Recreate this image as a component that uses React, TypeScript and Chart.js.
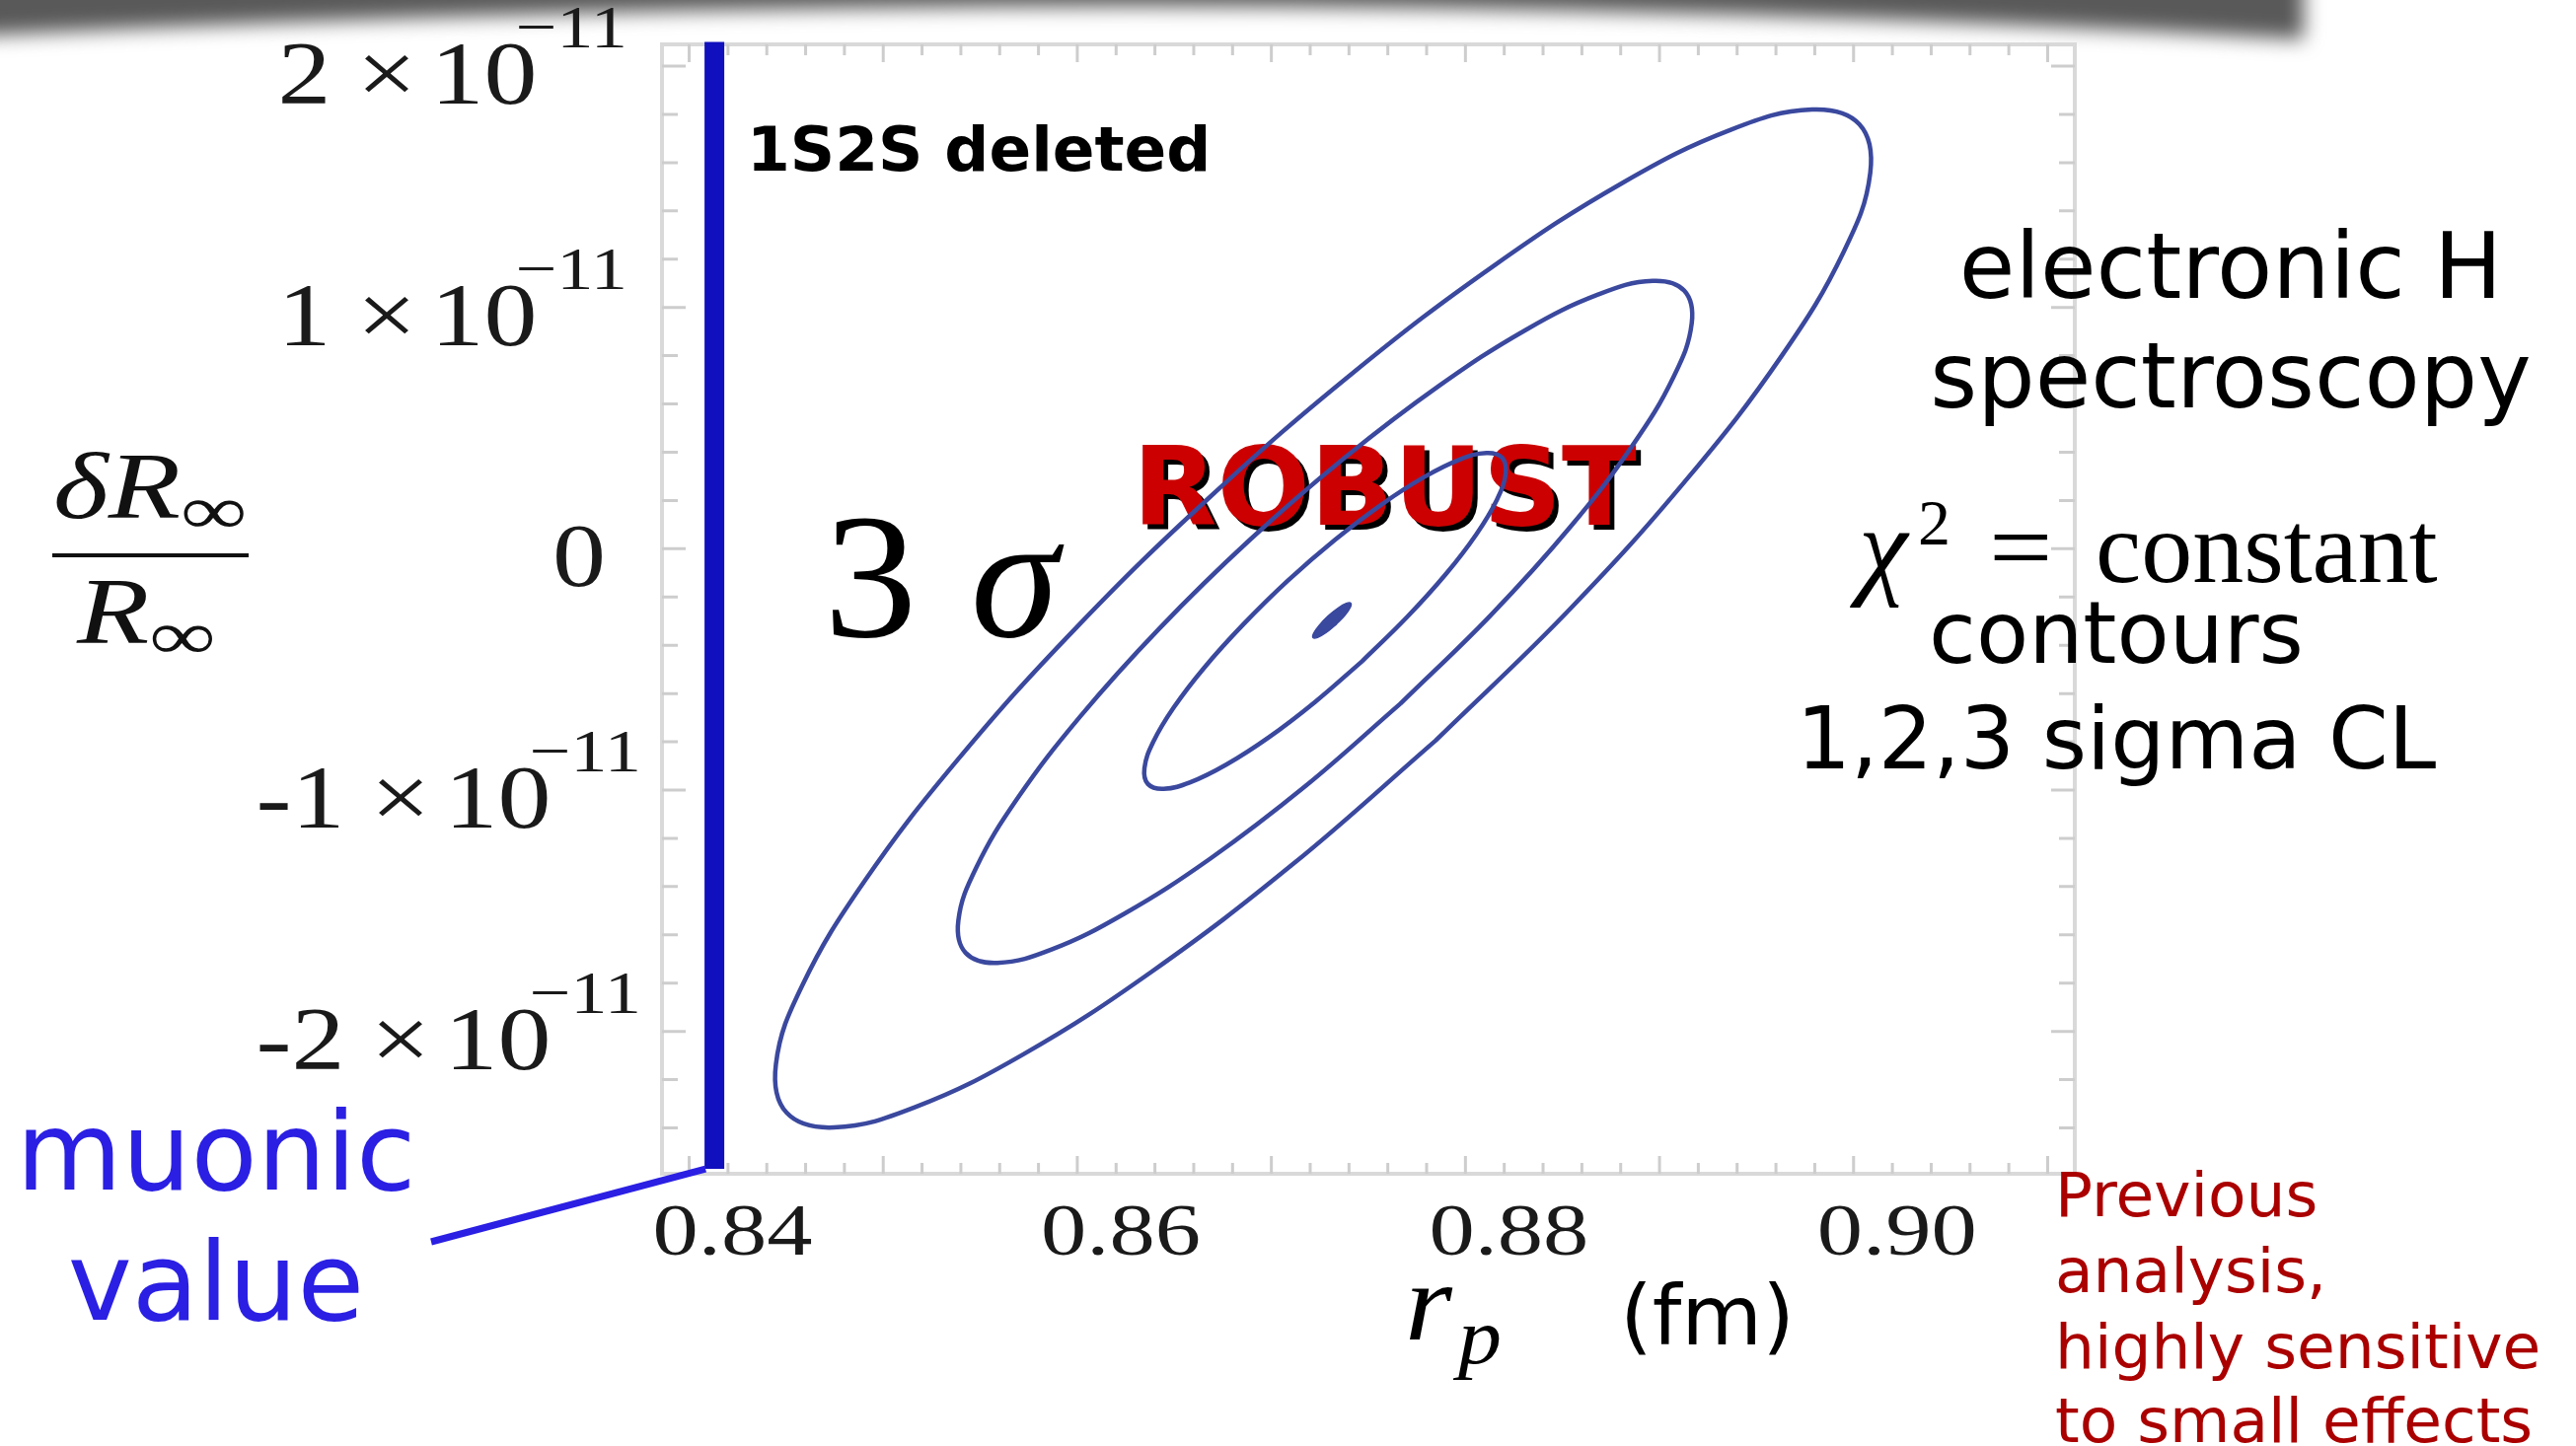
import React, { useEffect, useRef } from 'react';
import { Chart, registerables } from 'chart.js';

Chart.register(...registerables);

const W = 2611;
const H = 1466;

// Axis ranges: proton radius r_p in fm, δR∞/R∞ in units of 1e-11
const rpRange: [number, number] = [0.8386, 0.9114];
const dRRange: [number, number] = [-2.59, 2.09];

const rpTickValues = [0.84, 0.86, 0.88, 0.9];
const rpTickLabels = ['0.84', '0.86', '0.88', '0.90'];
const rpMinorStep = 0.002;

const dRTickValues = [2, 1, 0, -1, -2];
const dRTickMantissas = ['2', '1', '0', '-1', '-2'];
const dRTickExponent = '\u221211';
const dRMinorStep = 0.2;

// muonic hydrogen value of r_p
const muonicRp = 0.8413;
const muonicSpan = [2.1, -2.57];

// χ² = constant contours, [r_p, δR∞/R∞]
const contour3Sigma: [number, number][] = [
  [0.87846, -0.795], [0.87111, -1.307], [0.86386, -1.751], [0.85722, -2.095],
  [0.85162, -2.315], [0.84746, -2.398], [0.84502, -2.337], [0.84447, -2.136],
  [0.84583, -1.809], [0.84902, -1.379], [0.85383, -0.875], [0.85991, -0.33],
  [0.86687, 0.217], [0.87422, 0.73], [0.88147, 1.173], [0.88811, 1.517],
  [0.8937, 1.737], [0.89786, 1.82], [0.9003, 1.759], [0.90086, 1.558],
  [0.8995, 1.232], [0.89631, 0.801], [0.8915, 0.297], [0.88541, -0.248],
  [0.87846, -0.795],
];

const contour2Sigma: [number, number][] = [
  [0.87665, -0.642], [0.87172, -0.986], [0.86687, -1.283], [0.86241, -1.513],
  [0.85867, -1.661], [0.85588, -1.716], [0.85425, -1.675], [0.85387, -1.541],
  [0.85479, -1.322], [0.85692, -1.034], [0.86014, -0.696], [0.86422, -0.331],
  [0.86888, 0.036], [0.87381, 0.379], [0.87866, 0.676], [0.88311, 0.907],
  [0.88686, 1.054], [0.88965, 1.11], [0.89128, 1.069], [0.89166, 0.934],
  [0.89074, 0.715], [0.8886, 0.427], [0.88539, 0.089], [0.88131, -0.275],
  [0.87665, -0.642],
];

const contour1Sigma: [number, number][] = [
  [0.87468, -0.466], [0.87225, -0.635], [0.86986, -0.782], [0.86767, -0.895],
  [0.86582, -0.968], [0.86445, -0.995], [0.86364, -0.975], [0.86346, -0.909],
  [0.86391, -0.801], [0.86496, -0.659], [0.86655, -0.492], [0.86856, -0.313],
  [0.87085, -0.132], [0.87328, 0.037], [0.87567, 0.183], [0.87787, 0.297],
  [0.87971, 0.37], [0.88108, 0.397], [0.88189, 0.377], [0.88207, 0.31],
  [0.88162, 0.203], [0.88057, 0.061], [0.87898, -0.106], [0.87697, -0.285],
  [0.87468, -0.466],
];

// tiny contour around the χ² minimum
const bestFitContour: [number, number][] = [
  [0.87332, -0.315], [0.87281, -0.348], [0.87238, -0.368], [0.87215, -0.369],
  [0.87218, -0.35], [0.87246, -0.318], [0.87292, -0.279], [0.87343, -0.246],
  [0.87386, -0.226], [0.87409, -0.225], [0.87406, -0.244], [0.87378, -0.277],
  [0.87332, -0.315],
];

const CONTOUR_COLOR = '#3a489e';
const MUONIC_LINE = '#1010be';
const MUONIC_TEXT = '#2a1fe3';
const sans = "'DejaVu Sans', 'Noto Sans', sans-serif";
const serif = "'Liberation Serif', 'DejaVu Serif', serif";

type Align = 'left' | 'center' | 'right';

function drawText(
  ctx: CanvasRenderingContext2D,
  s: string,
  x: number,
  y: number,
  font: string,
  color: string,
  align: Align = 'left',
  sx = 1,
): number {
  ctx.save();
  ctx.font = font;
  ctx.fillStyle = color;
  ctx.textBaseline = 'alphabetic';
  ctx.textAlign = 'left';
  const w = ctx.measureText(s).width * sx;
  const x0 = align === 'center' ? x - w / 2 : align === 'right' ? x - w : x;
  ctx.translate(x0, y);
  ctx.scale(sx, 1);
  ctx.fillText(s, 0, 0);
  ctx.restore();
  return w;
}

function measure(ctx: CanvasRenderingContext2D, s: string, font: string, sx = 1): number {
  ctx.save();
  ctx.font = font;
  const w = ctx.measureText(s).width * sx;
  ctx.restore();
  return w;
}

// soft shadow along the top edge of the slide
const shadowPlugin = {
  id: 'topShadow',
  beforeDraw(chart: Chart) {
    const ctx = chart.ctx;
    ctx.save();
    ctx.filter = 'blur(10px)';
    ctx.fillStyle = '#595959';
    ctx.beginPath();
    ctx.moveTo(-60, -80);
    ctx.lineTo(2335, -80);
    ctx.lineTo(2335, 40);
    ctx.quadraticCurveTo(1200, -26, -60, 38);
    ctx.closePath();
    ctx.fill();
    ctx.restore();
  },
};

// light frame with inward ticks on all four sides
const framePlugin = {
  id: 'frameTicks',
  beforeDatasetsDraw(chart: Chart) {
    const ctx = chart.ctx;
    const { left, right, top, bottom } = chart.chartArea;
    const xs = chart.scales.x;
    const ys = chart.scales.y;
    ctx.save();
    ctx.strokeStyle = '#d9d9d9';
    ctx.lineWidth = 4;
    ctx.strokeRect(left, top, right - left, bottom - top);

    ctx.strokeStyle = '#cdcdcd';
    ctx.lineWidth = 3;
    ctx.beginPath();
    for (let i = 0; ; i++) {
      const v = rpTickValues[0] + i * rpMinorStep;
      if (v > rpRange[1] + 1e-9) break;
      const px = xs.getPixelForValue(v);
      const len = i % 5 === 0 ? 18 : 11;
      ctx.moveTo(px, bottom);
      ctx.lineTo(px, bottom - len);
      ctx.moveTo(px, top);
      ctx.lineTo(px, top + len);
    }
    const firstY = Math.ceil((dRRange[0] + 1e-9) / dRMinorStep);
    const lastY = Math.floor((dRRange[1] - 1e-9) / dRMinorStep);
    for (let k = firstY; k <= lastY; k++) {
      const py = ys.getPixelForValue(k * dRMinorStep);
      const len = k % 5 === 0 ? 24 : 16;
      ctx.moveTo(left, py);
      ctx.lineTo(left + len, py);
      ctx.moveTo(right, py);
      ctx.lineTo(right - len, py);
    }
    ctx.stroke();
    ctx.restore();

    // "ROBUST" sits underneath the contour lines
    const rx = 1148;
    const ry = 532;
    const f = `bold 110px ${sans}`;
    drawText(ctx, 'ROBUST', rx + 5, ry + 5, f, '#000000', 'left', 1.01);
    drawText(ctx, 'ROBUST', rx, ry, f, '#cc0000', 'left', 1.01);
  },
};

const labelPlugin = {
  id: 'labels',
  afterDatasetsDraw(chart: Chart) {
    const ctx = chart.ctx;
    const xs = chart.scales.x;
    const ys = chart.scales.y;
    const tickColor = '#1a1a1a';

    // x tick labels
    const xFont = `74px ${serif}`;
    rpTickValues.forEach((v, i) => {
      const px = xs.getPixelForValue(v) + 44;
      drawText(ctx, rpTickLabels[i], px, 1272, xFont, tickColor, 'center', 1.25);
    });

    // y tick labels: mantissa ×10^-11
    const yFont = `90px ${serif}`;
    const expFont = `62px ${serif}`;
    const sx = 1.2;
    dRTickValues.forEach((v, i) => {
      const m = dRTickMantissas[i];
      const base = ys.getPixelForValue(v) + 38;
      if (v === 0) {
        drawText(ctx, m, 614, base, yFont, tickColor, 'right', sx);
        return;
      }
      const wm = measure(ctx, m, yFont, sx);
      const wx = measure(ctx, '\u00d7', yFont, sx);
      const w10 = measure(ctx, '10', yFont, sx);
      const we = measure(ctx, dRTickExponent, expFont, sx);
      const total = wm + 26 + wx + 14 + w10 - 22 + we;
      const xr = v > 0 ? 636 : 650;
      let x = xr - total;
      x += drawText(ctx, m, x, base, yFont, tickColor, 'left', sx) + 26;
      x += drawText(ctx, '\u00d7', x, base, yFont, tickColor, 'left', sx) + 14;
      x += drawText(ctx, '10', x, base, yFont, tickColor, 'left', sx) - 22;
      drawText(ctx, dRTickExponent, x, base - 57, expFont, tickColor, 'left', sx);
    });

    // y axis title: δR∞ / R∞
    const it = `italic 96px ${serif}`;
    const inf = `70px ${serif}`;
    let nx = 54;
    nx += drawText(ctx, '\u03b4R', nx, 525, it, '#111', 'left', 1.25);
    drawText(ctx, '\u221e', nx, 541, inf, '#111', 'left', 1.35);
    ctx.save();
    ctx.fillStyle = '#111';
    ctx.fillRect(53, 561, 199, 4);
    ctx.restore();
    let dx = 78;
    dx += drawText(ctx, 'R', dx, 652, it, '#111', 'left', 1.25);
    drawText(ctx, '\u221e', dx, 668, inf, '#111', 'left', 1.35);

    // x axis title: r_p (fm)
    drawText(ctx, 'r', 1424, 1358, `italic 112px ${serif}`, '#000', 'left', 1.1);
    drawText(ctx, 'p', 1478, 1382, `italic 80px ${serif}`, '#000', 'left', 1.1);
    drawText(ctx, '(fm)', 1642, 1363, `84px ${sans}`, '#000');

    // annotations inside the frame
    drawText(ctx, '1S2S deleted', 757, 173, `bold 63px ${sans}`, '#000');
    drawText(ctx, '3', 835, 645, `180px ${serif}`, '#000', 'left', 1.05);
    drawText(ctx, '\u03c3', 984, 645, `italic 180px ${serif}`, '#000');

    // right-hand notes
    drawText(ctx, 'electronic H', 2261, 302, `92px ${sans}`, '#000', 'center');
    drawText(ctx, 'spectroscopy', 2261, 413, `92px ${sans}`, '#000', 'center');
    drawText(ctx, '\u03c7', 1884, 592, `italic 112px ${serif}`, '#000');
    drawText(ctx, '2', 1944, 552, `66px ${serif}`, '#000');
    drawText(ctx, '=', 2016, 590, `104px ${serif}`, '#000', 'left', 1.1);
    drawText(ctx, 'constant', 2124, 590, `104px ${serif}`, '#000');
    drawText(ctx, 'contours', 2145, 672, `87px ${sans}`, '#000', 'center');
    drawText(ctx, '1,2,3 sigma CL', 2145, 779, `87px ${sans}`, '#000', 'center');

    const red = '#aa0000';
    const rf = `63px ${sans}`;
    drawText(ctx, 'Previous', 2083, 1233, rf, red);
    drawText(ctx, 'analysis,', 2083, 1310, rf, red);
    drawText(ctx, 'highly sensitive', 2083, 1387, rf, red);
    drawText(ctx, 'to small effects', 2083, 1462, rf, red);

    // muonic value label and its leader line
    const mf = `110px ${sans}`;
    drawText(ctx, 'muonic', 219, 1206, mf, MUONIC_TEXT, 'center');
    drawText(ctx, 'value', 219, 1338, mf, MUONIC_TEXT, 'center');
    const lx = xs.getPixelForValue(muonicRp) - 9;
    const ly = ys.getPixelForValue(muonicSpan[1]);
    ctx.save();
    ctx.strokeStyle = MUONIC_TEXT;
    ctx.lineWidth = 7;
    ctx.beginPath();
    ctx.moveTo(lx, ly);
    ctx.lineTo(437, 1259);
    ctx.stroke();
    ctx.restore();
  },
};

const toXY = (pts: [number, number][]) => pts.map(([x, y]) => ({ x, y }));

export default function App() {
  const canvasRef = useRef<HTMLCanvasElement | null>(null);

  useEffect(() => {
    const canvas = canvasRef.current;
    if (!canvas) return;
    const contourStyle = {
      showLine: true,
      borderColor: CONTOUR_COLOR,
      borderWidth: 4.5,
      pointRadius: 0,
      tension: 0.4,
      fill: false,
    };
    const chart = new Chart(canvas, {
      type: 'scatter',
      data: {
        datasets: [
          { label: '3 sigma', data: toXY(contour3Sigma), ...contourStyle },
          { label: '2 sigma', data: toXY(contour2Sigma), ...contourStyle },
          { label: '1 sigma', data: toXY(contour1Sigma), ...contourStyle },
          {
            label: 'minimum',
            data: toXY(bestFitContour),
            ...contourStyle,
            borderWidth: 1.5,
            fill: 'shape',
            backgroundColor: CONTOUR_COLOR,
          },
          {
            label: 'muonic',
            data: [
              { x: muonicRp, y: muonicSpan[0] },
              { x: muonicRp, y: muonicSpan[1] },
            ],
            showLine: true,
            borderColor: MUONIC_LINE,
            borderWidth: 20,
            borderCapStyle: 'butt',
            pointRadius: 0,
            clip: false,
          },
        ],
      } as any,
      options: {
        animation: false,
        responsive: false,
        maintainAspectRatio: false,
        events: [],
        layout: {
          padding: { left: 671, top: 45, right: W - 2103, bottom: H - 1190 },
        },
        plugins: {
          legend: { display: false },
          tooltip: { enabled: false },
        },
        scales: {
          x: { type: 'linear', min: rpRange[0], max: rpRange[1], display: false },
          y: { type: 'linear', min: dRRange[0], max: dRRange[1], display: false },
        },
      },
      plugins: [shadowPlugin, framePlugin, labelPlugin],
    });
    return () => chart.destroy();
  }, []);

  return (
    <div style={{ position: 'fixed', left: 0, top: 0, width: W, height: H, background: '#fff' }}>
      <canvas ref={canvasRef} width={W} height={H} style={{ display: 'block' }} />
    </div>
  );
}
